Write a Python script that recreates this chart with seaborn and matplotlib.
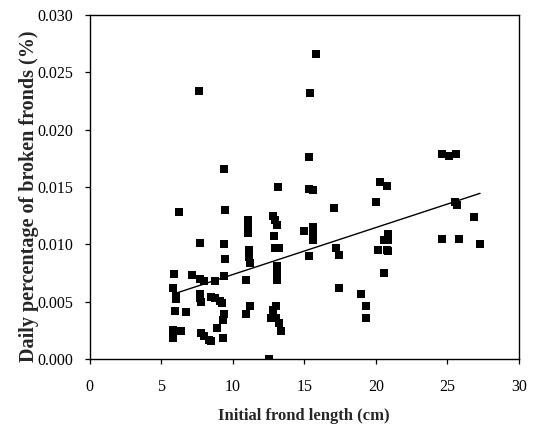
import matplotlib
matplotlib.use("Agg")
import matplotlib.pyplot as plt
from matplotlib.ticker import FormatStrFormatter
import numpy as np
import pandas as pd
import seaborn as sns

# Initial frond length (cm)
frond_length = [
    15.79, 15.42, 7.68, 15.30, 9.42, 13.14, 15.36, 15.62, 17.11, 6.25,
    9.48, 11.05, 11.05, 11.05, 12.85, 12.95, 13.08, 14.97, 15.64, 15.64,
    15.64, 12.90, 7.71, 9.37, 11.13, 11.13, 11.20, 12.97, 13.27, 9.45,
    15.31, 17.20, 17.45, 13.10, 13.10, 13.10, 5.93, 7.13, 7.70, 7.98,
    8.74, 9.36, 10.94, 5.80, 6.02, 6.02, 7.72, 7.70, 7.76, 8.49,
    8.79, 9.14, 9.26, 5.97, 6.76, 9.42, 9.35, 10.94, 11.22, 13.02,
    12.80, 12.71, 13.00, 13.22, 13.38, 5.83, 5.86, 6.15, 6.42, 7.82,
    8.00, 8.35, 8.50, 8.90, 9.33, 12.53, 17.43, 18.95, 19.31, 19.32,
    20.02, 20.29, 20.80, 20.16, 20.78, 20.86, 20.57, 20.86, 20.86, 20.57,
    24.64, 25.10, 25.60, 25.55, 25.68, 26.86, 24.62, 25.80, 27.28,
]

# Daily percentage of broken fronds (%)
broken_pct = [
    0.0266, 0.0232, 0.0234, 0.0176, 0.0166, 0.0150, 0.0148, 0.0147, 0.0132, 0.0128,
    0.0130, 0.0121, 0.0116, 0.0110, 0.0125, 0.0121, 0.0117, 0.0112, 0.0115, 0.0110,
    0.0104, 0.0107, 0.0101, 0.0100, 0.0095, 0.0089, 0.0084, 0.0097, 0.0097, 0.0087,
    0.0090, 0.0097, 0.0091, 0.0081, 0.0075, 0.0069, 0.0074, 0.0073, 0.0070, 0.0068,
    0.0068, 0.0072, 0.0069, 0.0062, 0.0055, 0.0052, 0.0057, 0.0053, 0.0050, 0.0054,
    0.0053, 0.0051, 0.0049, 0.0042, 0.0041, 0.0039, 0.0034, 0.0039, 0.0046, 0.0046,
    0.0043, 0.0036, 0.0036, 0.0031, 0.0024, 0.0025, 0.0018, 0.0024, 0.0024, 0.0023,
    0.0020, 0.0017, 0.0016, 0.0027, 0.0018, 0.0000, 0.0062, 0.0057, 0.0046, 0.0036,
    0.0137, 0.0154, 0.0151, 0.0095, 0.0095, 0.0094, 0.0104, 0.0109, 0.0104, 0.0075,
    0.0179, 0.0177, 0.0179, 0.0137, 0.0134, 0.0124, 0.0105, 0.0105, 0.0100,
]

x_ticks = [0, 5, 10, 15, 20, 25, 30]
y_ticks = [0.000, 0.005, 0.010, 0.015, 0.020, 0.025, 0.030]

df = pd.DataFrame({"length": frond_length, "broken": broken_pct})

sns.set_style("ticks")
plt.rcParams["font.family"] = ["Liberation Serif", "DejaVu Serif"]

fig = plt.figure(figsize=(5.35, 4.25), dpi=100)
ax = fig.add_axes([89.5 / 535, 1 - 359 / 425, (519 - 89.5) / 535, (359 - 15) / 425])

sns.scatterplot(data=df, x="length", y="broken", marker="s", s=28,
                color="black", edgecolor="black", linewidth=0, ax=ax, zorder=3)
sns.regplot(data=df, x="length", y="broken", scatter=False, ci=None,
            color="black", line_kws={"linewidth": 1.0}, ax=ax, truncate=True)

ax.set_xlim(0, 30)
ax.set_ylim(0, 0.030)
ax.set_xticks(x_ticks)
ax.set_yticks(y_ticks)
ax.yaxis.set_major_formatter(FormatStrFormatter("%.3f"))

for side in ["left", "right", "top", "bottom"]:
    ax.spines[side].set_visible(True)
    ax.spines[side].set_linewidth(1.0)
    ax.spines[side].set_color("black")

ax.tick_params(axis="both", direction="out", length=3.5, width=0.9,
               colors="black", labelsize=11.5)
ax.tick_params(axis="x", pad=11)
ax.tick_params(axis="y", pad=8)

ax.set_xlabel("Initial frond length (cm)", fontsize=12, fontweight="bold", labelpad=9)
ax.set_ylabel("Daily percentage of broken fronds (%)", fontsize=14.5,
              fontweight="bold")
ax.yaxis.set_label_coords(-0.118, 0.474)

fig.savefig("out.png", dpi=100)
